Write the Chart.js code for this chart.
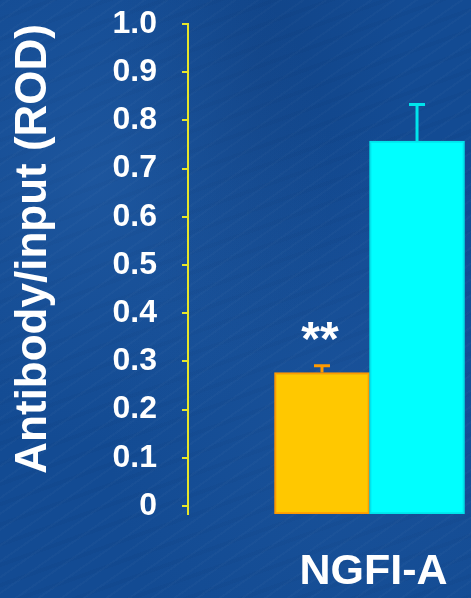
<!DOCTYPE html>
<html>
<head>
<meta charset="utf-8">
<script src="https://cdn.jsdelivr.net/npm/chart.js@4.4.0/dist/chart.umd.min.js"></script>
<style>
  html, body { margin: 0; padding: 0; }
  body {
    width: 471px; height: 598px; overflow: hidden;
    background-color: #134b93;
    background-image:
      radial-gradient(ellipse at 20% 30%, rgba(80,140,210,0.16), transparent 45%),
      radial-gradient(ellipse at 75% 70%, rgba(70,130,200,0.12), transparent 50%),
      radial-gradient(ellipse at 55% 10%, rgba(10,40,90,0.18), transparent 40%),
      repeating-linear-gradient(-35deg, rgba(255,255,255,0.02) 0 2px, transparent 2px 13px),
      repeating-linear-gradient(-20deg, rgba(0,20,60,0.04) 0 4px, transparent 4px 19px);
  }
  #wrap { position: relative; width: 471px; height: 598px; }
</style>
</head>
<body>
<div id="wrap"><canvas id="barChart"></canvas></div>
<script>
// values
const groupLabel = "NGFI-A";
const barValues = [0.277, 0.757];
const barErrors = [0.014, 0.076];
const sigMarks = ["**", ""];
const yTickValues = [0, 0.1, 0.2, 0.3, 0.4, 0.5, 0.6, 0.7, 0.8, 0.9, 1.0];
const yTickLabels = ["0", "0.1", "0.2", "0.3", "0.4", "0.5", "0.6", "0.7", "0.8", "0.9", "1.0"];

const fillColors = ["#ffc800", "#00ffff"];
const edgeColors = ["#ff9a00", "#00e4ec"];
const axisYellow = "#e6e62a";
const FONT = "'Liberation Sans', Arial, sans-serif";

// no extra label padding, so the plot box sits where the layout puts it
function noPadding(scale) {
    scale.paddingTop = 0;
    scale.paddingBottom = 0;
    scale.paddingLeft = 0;
    scale.paddingRight = 0;
}

// error bars (upper half only) + significance stars
const errorBars = {
    id: "errorBars",
    afterDatasetsDraw(chart) {
        const ctx = chart.ctx;
        const y = chart.scales.y;
        const meta = chart.getDatasetMeta(0);
        meta.data.forEach((bar, i) => {
            const top = y.getPixelForValue(barValues[i] + barErrors[i]);
            ctx.save();
            ctx.strokeStyle = edgeColors[i];
            ctx.lineWidth = 3;
            ctx.beginPath();
            ctx.moveTo(bar.x, bar.y);
            ctx.lineTo(bar.x, top);
            ctx.moveTo(bar.x - 8, top);
            ctx.lineTo(bar.x + 8, top);
            ctx.stroke();
            if (sigMarks[i]) {
                ctx.fillStyle = "#ffffff";
                ctx.font = "bold 48px " + FONT;
                ctx.textAlign = "center";
                ctx.textBaseline = "middle";
                ctx.fillText(sigMarks[i], bar.x - 2, top - 24);
            }
            ctx.restore();
        });
    }
};

const chart = new Chart(document.getElementById("barChart"), {
    type: "bar",
    data: {
        datasets: [{
            data: barValues.map((v, i) => ({ x: i, y: v })),
            backgroundColor: fillColors,
            borderColor: edgeColors,
            borderWidth: 2,
            borderSkipped: false,
            barThickness: 95,
            base: -0.0166
        }]
    },
    options: {
        responsive: true,
        maintainAspectRatio: false,
        animation: false,
        layout: { padding: { left: 0, right: 0, top: 24, bottom: 0 } },
        plugins: {
            legend: { display: false },
            tooltip: { enabled: false }
        },
        scales: {
            x: {
                type: "linear",
                offset: false,
                min: -1.41,
                max: 1.568,
                grid: { display: false, drawTicks: false },
                border: { display: false },
                afterBuildTicks(scale) { scale.ticks = [{ value: 0.5 }]; },
                afterFit(scale) { scale.height = 84; noPadding(scale); },
                ticks: {
                    color: "#ffffff",
                    font: { family: FONT, size: 43, weight: "bold" },
                    padding: 32,
                    labelOffset: 4,
                    maxRotation: 0,
                    callback: () => groupLabel
                }
            },
            y: {
                min: -0.0166,
                max: 1.0,
                afterBuildTicks(scale) { scale.ticks = yTickValues.map(v => ({ value: v })); },
                afterFit(scale) { scale.width = 188; noPadding(scale); },
                grid: {
                    drawOnChartArea: false,
                    color: axisYellow,
                    lineWidth: 2,
                    tickLength: 6
                },
                border: { color: axisYellow, width: 2 },
                ticks: {
                    color: "#ffffff",
                    font: { family: FONT, size: 32, weight: "bold" },
                    padding: 25,
                    callback: (v) => yTickLabels[yTickValues.indexOf(v)]
                },
                title: {
                    display: true,
                    text: "Antibody/input (ROD)",
                    color: "#ffffff",
                    align: "end",
                    font: { family: FONT, size: 44, weight: "bold" },
                    padding: { top: 7, bottom: 0 }
                }
            }
        }
    },
    plugins: [errorBars]
});
</script>
</body>
</html>
